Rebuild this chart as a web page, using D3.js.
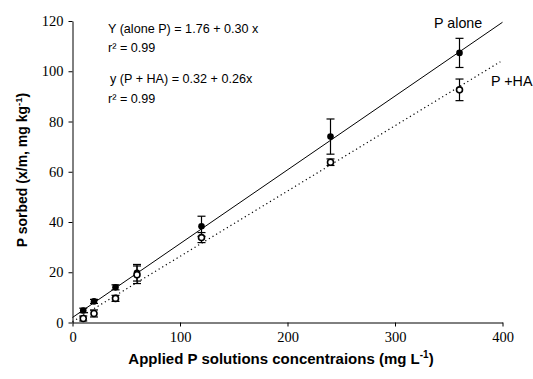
<!DOCTYPE html>
<html><head><meta charset="utf-8">
<script src="https://cdn.jsdelivr.net/npm/d3@7"></script>
<style>body{margin:0;background:#fff}svg{display:block}</style>
</head><body><svg id="c" width="533" height="379"></svg>
<script>
const xConc = [10, 20, 40, 60, 120, 240, 360];
const pAlone = [4.8, 8.4, 14.0, 19.8, 38.3, 74.0, 107.3];
const pAloneErr = [0.9, 0.8, 1.0, 3.3, 4.0, 7.0, 5.8];
const pHA = [1.6, 3.6, 9.6, 19.0, 33.8, 63.8, 92.6];
const pHAErr = [1.0, 1.4, 1.2, 3.5, 2.0, 1.3, 4.3];
const lineAlone = [[0, 2.0], [400, 119.5]];
const lineHA = [[0, 0.32], [398, 103.8]];
const xTicks = [0, 100, 200, 300, 400];
const yTicks = [0, 20, 40, 60, 80, 100, 120];
const eqTexts = ["Y (alone P) = 1.76 + 0.30 x", "r\u00B2 = 0.99", "y (P + HA) = 0.32 + 0.26x", "r\u00B2 = 0.99"];

const svg = d3.select("#c");
const x = d3.scaleLinear().domain([0, 400]).range([72.5, 502.5]);
const y = d3.scaleLinear().domain([0, 120]).range([322.5, 21]);

const xa = svg.append("g").attr("transform", "translate(0,322.5)")
  .call(d3.axisBottom(x).tickValues(xTicks).tickSize(4).tickSizeOuter(0));
const ya = svg.append("g").attr("transform", "translate(72.5,0)")
  .call(d3.axisLeft(y).tickValues(yTicks).tickSize(-0).tickSizeOuter(0));
ya.selectAll(".tick line").attr("x2", -4);
[xa, ya].forEach(a => {
  a.selectAll("path,line").attr("stroke", "#000");
  a.selectAll("text").attr("font-family", "'Liberation Serif', 'Times New Roman', serif")
    .attr("font-size", 14.5).attr("fill", "#000");
});
xa.selectAll("text").attr("dy", "0.9em").attr("y", 6);
ya.selectAll("text").attr("x", -9);

const line = d3.line().x(d => x(d[0])).y(d => y(d[1]));
svg.append("path").attr("d", line(lineAlone)).attr("stroke", "#000").attr("stroke-width", 1).attr("fill", "none");
svg.append("path").attr("d", line(lineHA)).attr("stroke", "#000").attr("stroke-width", 1.2)
  .attr("stroke-dasharray", "1.2,3").attr("fill", "none");

function errBars(vals, errs) {
  const g = svg.append("g").attr("stroke", "#000").attr("stroke-width", 1.2);
  xConc.forEach((xv, i) => {
    const cx = x(xv), t = y(vals[i] + errs[i]), b = y(vals[i] - errs[i]);
    g.append("line").attr("x1", cx).attr("x2", cx).attr("y1", t).attr("y2", b);
    g.append("line").attr("x1", cx - 4).attr("x2", cx + 4).attr("y1", t).attr("y2", t);
    g.append("line").attr("x1", cx - 4).attr("x2", cx + 4).attr("y1", b).attr("y2", b);
  });
}
errBars(pAlone, pAloneErr);
errBars(pHA, pHAErr);

svg.append("g").selectAll("circle").data(xConc).join("circle")
  .attr("cx", d => x(d)).attr("cy", (d, i) => y(pAlone[i])).attr("r", 3.3).attr("fill", "#000");
svg.append("g").selectAll("circle").data(xConc).join("circle")
  .attr("cx", d => x(d)).attr("cy", (d, i) => y(pHA[i])).attr("r", 3).attr("fill", "#fff")
  .attr("stroke", "#000").attr("stroke-width", 1.6);

const sans = "'Liberation Sans', Arial, sans-serif";
const eqPos = [[108, 33], [108, 52], [110, 83], [108, 103]];
eqTexts.forEach((t, i) => {
  svg.append("text").attr("x", eqPos[i][0]).attr("y", eqPos[i][1]).text(t)
    .attr("font-family", sans).attr("font-size", 12.6).attr("fill", "#000");
});
svg.append("text").attr("x", 434).attr("y", 28).text("P alone").attr("font-family", sans).attr("font-size", 14.3);
svg.append("text").attr("x", 491).attr("y", 86).text("P +HA").attr("font-family", sans).attr("font-size", 14.3);

const xl = svg.append("text").attr("x", 281).attr("y", 364).attr("text-anchor", "middle")
  .attr("font-family", sans).attr("font-size", 15).attr("font-weight", "bold");
xl.append("tspan").text("Applied P solutions concentraions (mg L");
xl.append("tspan").text("-1").attr("font-size", 10).attr("dy", -6);
xl.append("tspan").text(")").attr("dy", 6);

const yl = svg.append("text").attr("transform", "translate(27,170) rotate(-90)").attr("text-anchor", "middle")
  .attr("font-family", sans).attr("font-size", 14).attr("font-weight", "bold");
yl.append("tspan").text("P sorbed (x/m, mg kg");
yl.append("tspan").text("-1").attr("font-size", 9.5).attr("dy", -5);
yl.append("tspan").text(")").attr("dy", 5);
</script></body></html>
